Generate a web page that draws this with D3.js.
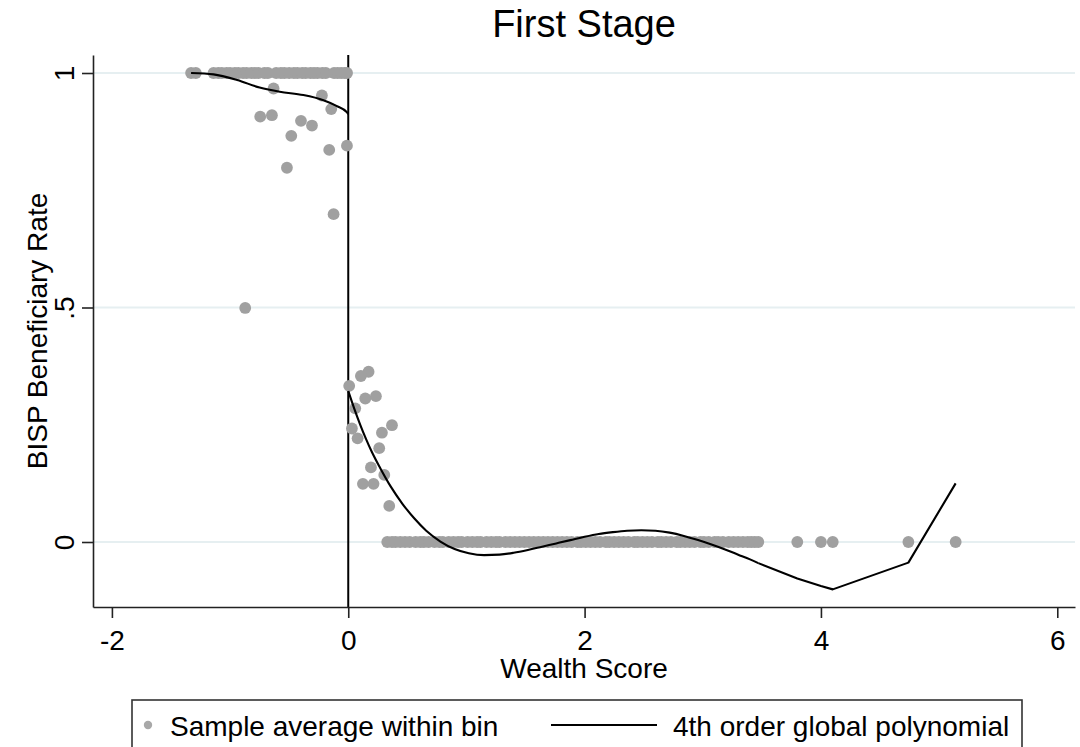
<!DOCTYPE html>
<html>
<head>
<meta charset="utf-8">
<script src="https://cdn.jsdelivr.net/npm/d3@7"></script>
<style>
body { margin: 0; background: #fff; }
text { font-family: "Liberation Sans", Arial, sans-serif; fill: #000; }
</style>
</head>
<body>
<svg id="chart" width="1080" height="747"></svg>
<script>
// binned averages
var topRowX = [-1.33, -1.29, -1.14, -1.10, -1.07, -1.03, -1.00, -0.96, -0.93, -0.89, -0.86, -0.82, -0.79,
    -0.76, -0.71, -0.68, -0.61, -0.57, -0.54, -0.50, -0.46, -0.43, -0.39, -0.36, -0.32, -0.29, -0.26,
    -0.22, -0.19, -0.12, -0.09, -0.06, -0.03, -0.01];

var leftX = [-0.632, -0.223, -0.144, -0.745, -0.646, -0.400, -0.307, -0.482, -0.161, -0.011, -0.519, -0.124, -0.872];
var leftY = [0.967, 0.952, 0.923, 0.907, 0.910, 0.898, 0.888, 0.866, 0.836, 0.845, 0.798, 0.699, 0.499];

var rightX = [0.172, 0.107, 0.008, 0.144, 0.234, 0.059, 0.031, 0.079, 0.370, 0.285, 0.262, 0.192, 0.305, 0.124, 0.214, 0.347];
var rightY = [0.363, 0.354, 0.333, 0.306, 0.311, 0.285, 0.242, 0.221, 0.249, 0.233, 0.200, 0.159, 0.143, 0.124, 0.124, 0.077];

var zeroRowX = [0.33, 0.37, 0.40, 0.44, 0.48, 0.52, 0.57, 0.61, 0.64, 0.68, 0.73, 0.77, 0.80, 0.85, 0.89,
    0.93, 0.96, 1.01, 1.05, 1.09, 1.12, 1.17, 1.21, 1.25, 1.28, 1.33, 1.37, 1.41, 1.45, 1.49, 1.53, 1.57,
    1.61, 1.65, 1.69, 1.73, 1.77, 1.81, 1.85, 1.89, 1.94, 1.97, 2.01, 2.05, 2.09, 2.13, 2.18, 2.21, 2.25,
    2.29, 2.33, 2.37, 2.42, 2.45, 2.49, 2.53, 2.57, 2.62, 2.65, 2.69, 2.73, 2.78, 2.81, 2.85, 2.89, 2.93,
    2.98, 3.01, 3.05, 3.10, 3.13, 3.17, 3.22, 3.26, 3.30, 3.34, 3.38, 3.41, 3.44, 3.47, 3.80, 4.00, 4.10,
    4.74, 5.14];

// polynomial fit, evaluated at bins: left of cutoff, dense right part, sparse right tail
var fitLeftX = [-1.33, -1.14, -0.94, -0.75, -0.58, -0.38, -0.21, -0.10, -0.01, 0];
var fitLeftY = [1.000, 0.997, 0.985, 0.969, 0.960, 0.953, 0.942, 0.930, 0.916, 0.912];

var fitRightX = [0, 0.05, 0.10, 0.15, 0.20, 0.27, 0.36, 0.46, 0.56, 0.66, 0.78, 0.90, 1.02, 1.15, 1.28,
    1.40, 1.52, 1.64, 1.76, 1.88, 2.00, 2.12, 2.24, 2.36, 2.48, 2.60, 2.72, 2.84, 2.96, 3.08, 3.20, 3.30,
    3.40, 3.47];
var fitRightY = [0.322, 0.285, 0.251, 0.220, 0.192, 0.158, 0.118, 0.081, 0.050, 0.024, 0.001, -0.015,
    -0.024, -0.028, -0.027, -0.023, -0.017, -0.010, -0.003, 0.004, 0.011, 0.017, 0.021, 0.024, 0.025,
    0.024, 0.020, 0.013, 0.004, -0.006, -0.017, -0.027, -0.037, -0.045];

var fitTailX = [3.47, 3.80, 4.00, 4.10, 4.74, 5.14];
var fitTailY = [-0.045, -0.078, -0.094, -0.101, -0.044, 0.125];

var xTicks = [-2, 0, 2, 4, 6];
var xTickLabels = ["-2", "0", "2", "4", "6"];
var yTicks = [0, 0.5, 1];
var yTickLabels = ["0", ".5", "1"];

var PLOT_LEFT = 93;
var PLOT_RIGHT = 1075;
var PLOT_TOP = 55;
var PLOT_BOTTOM = 607;
var MARKER_R = 5.9;
var MARKER_COLOR = "#a0a0a0";

var svg = d3.select("#chart");

var x = d3.scaleLinear().domain([-2.16, 6.15]).range([PLOT_LEFT, PLOT_RIGHT]);
var y = d3.scaleLinear().domain([-0.1386, 1.0384]).range([PLOT_BOTTOM, PLOT_TOP]);

function zip(xs, ys) {
    return xs.map(function (v, i) { return [v, ys[i]]; });
}

function drawFit(data, curve) {
    var line = d3.line()
        .x(function (d) { return x(d[0]); })
        .y(function (d) { return y(d[1]); })
        .curve(curve);
    svg.append("path")
        .attr("d", line(data))
        .style("fill", "none")
        .style("stroke", "#000")
        .style("stroke-width", 2.1)
        .style("stroke-linejoin", "round");
}

// gridlines
svg.append("g").selectAll("line")
    .data(yTicks)
    .enter().append("line")
    .attr("x1", PLOT_LEFT).attr("x2", PLOT_RIGHT)
    .attr("y1", function (d) { return y(d); })
    .attr("y2", function (d) { return y(d); })
    .style("stroke", "#e6eff1")
    .style("stroke-width", 1.8);

// cutoff line
svg.append("line")
    .attr("x1", x(0)).attr("x2", x(0))
    .attr("y1", PLOT_TOP).attr("y2", PLOT_BOTTOM)
    .style("stroke", "#000")
    .style("stroke-width", 2);

// scatter
var points = topRowX.map(function (v) { return [v, 1]; })
    .concat(zip(leftX, leftY))
    .concat(zip(rightX, rightY))
    .concat(zeroRowX.map(function (v) { return [v, 0]; }));

svg.append("g").selectAll("circle")
    .data(points)
    .enter().append("circle")
    .attr("cx", function (d) { return x(d[0]); })
    .attr("cy", function (d) { return y(d[1]); })
    .attr("r", MARKER_R)
    .style("fill", MARKER_COLOR);

// fitted polynomial
drawFit(zip(fitLeftX, fitLeftY), d3.curveMonotoneX);
drawFit(zip(fitRightX, fitRightY), d3.curveMonotoneX);
drawFit(zip(fitTailX, fitTailY), d3.curveLinear);

// axes
var xAxis = d3.axisBottom(x)
    .tickValues(xTicks)
    .tickFormat(function (d, i) { return xTickLabels[i]; })
    .tickSize(11)
    .tickSizeOuter(0);
var gx = svg.append("g")
    .attr("transform", "translate(0," + PLOT_BOTTOM + ")")
    .call(xAxis);
gx.selectAll("text")
    .attr("y", 43).attr("dy", 0)
    .style("font-size", "28px");

var yAxis = d3.axisLeft(y)
    .tickValues(yTicks)
    .tickFormat(function (d, i) { return yTickLabels[i]; })
    .tickSize(11)
    .tickSizeOuter(0);
var gy = svg.append("g")
    .attr("transform", "translate(" + PLOT_LEFT + ",0)")
    .call(yAxis);
gy.selectAll("text")
    .attr("x", 0).attr("dy", 0)
    .attr("transform", "translate(-19,0) rotate(-90)")
    .attr("text-anchor", "middle")
    .style("font-size", "28px");

svg.selectAll(".domain, .tick line")
    .style("stroke", "#222")
    .style("stroke-width", 1.6);

// titles
svg.append("text")
    .text("First Stage")
    .attr("x", (PLOT_LEFT + PLOT_RIGHT) / 2).attr("y", 37)
    .attr("text-anchor", "middle")
    .style("font-size", "38px");

svg.append("text")
    .text("Wealth Score")
    .attr("x", (PLOT_LEFT + PLOT_RIGHT) / 2).attr("y", 678)
    .attr("text-anchor", "middle")
    .style("font-size", "28px");

svg.append("text")
    .text("BISP Beneficiary Rate")
    .attr("transform", "translate(47," + (PLOT_TOP + PLOT_BOTTOM) / 2 + ") rotate(-90)")
    .attr("text-anchor", "middle")
    .style("font-size", "28px");

// legend (runs off the bottom edge)
var legend = svg.append("g");
legend.append("rect")
    .attr("x", 132).attr("y", 700)
    .attr("width", 890).attr("height", 70)
    .style("fill", "#fff")
    .style("stroke", "#333")
    .style("stroke-width", 1.6);
legend.append("circle")
    .attr("cx", 148).attr("cy", 725).attr("r", 4.2)
    .style("fill", "#a8a8a8");
legend.append("text")
    .text("Sample average within bin")
    .attr("x", 170).attr("y", 736)
    .style("font-size", "28px");
legend.append("line")
    .attr("x1", 551).attr("x2", 657)
    .attr("y1", 725).attr("y2", 725)
    .style("stroke", "#000").style("stroke-width", 2);
legend.append("text")
    .text("4th order global polynomial")
    .attr("x", 673).attr("y", 736)
    .style("font-size", "28px");
</script>
</body>
</html>
